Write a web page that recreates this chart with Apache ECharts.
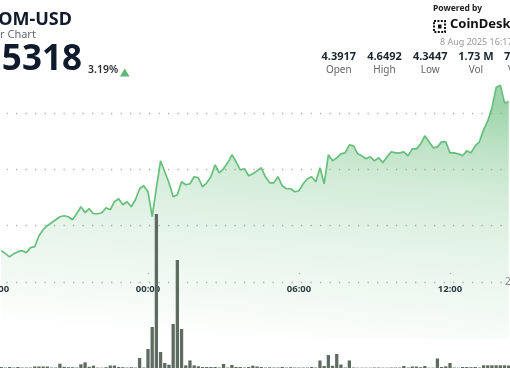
<!DOCTYPE html>
<html><head><meta charset="utf-8">
<script src="https://cdn.jsdelivr.net/npm/echarts@6/dist/echarts.min.js"></script>
<style>html,body{margin:0;padding:0;background:#fff}#c{width:510px;height:369px}</style>
</head><body><div id="c"></div>
<script>
// ---- data (ATOM-USD, 10-minute points, first point 18:10 on 7 Aug) ----
const firstPointTime = '18:10';
const stepMinutes = 10;
const price = [
 4.3558,4.3504,4.3447,4.3504,4.3540,4.3558,4.3522,4.3611,4.3628,4.3823,
 4.3929,4.4000,4.4053,4.4106,4.4159,4.4177,4.4159,4.4106,4.4212,4.4336,
 4.4230,4.4301,4.4212,4.4212,4.4230,4.4319,4.4283,4.4425,4.4478,4.4372,
 4.4425,4.4336,4.4460,4.4655,4.4708,4.4602,4.4159,4.4673,4.5150,4.4956,
 4.4761,4.4513,4.4549,4.4779,4.4726,4.4743,4.4867,4.4850,4.4690,4.4761,
 4.4867,4.5080,4.4938,4.5009,4.5115,4.5257,4.5133,4.4991,4.5009,4.4885,
 4.4920,4.4973,4.5027,4.4867,4.4761,4.4761,4.4867,4.4708,4.4655,4.4655,
 4.4602,4.4619,4.4743,4.4832,4.4867,4.4779,4.5027,4.4743,4.5257,4.5150,
 4.5204,4.5274,4.5292,4.5434,4.5416,4.5274,4.5239,4.5186,4.5221,4.5150,
 4.5204,4.5115,4.5221,4.5310,4.5292,4.5292,4.5310,4.5239,4.5363,4.5363,
 4.5451,4.5593,4.5487,4.5381,4.5398,4.5487,4.5487,4.5292,4.5292,4.5274,
 4.5239,4.5327,4.5292,4.5416,4.5487,4.5699,4.5858,4.6088,4.6450,4.6492,
 4.6177,4.6195
];
const volumeK = [
 2.5,1.2,2.5,1.2,2.5,1.2,1.2,1.2,3.8,3.8,
 3.8,3.8,1.2,1.2,10.8,3,2,2,1.2,9.2,
 14.2,3,5.8,1,0.8,2,6.2,6.2,2.5,2,
 1.2,2,1.2,25,1.2,47.5,102.5,385,40,12.5,
 8.2,110,270,97.5,6.5,19,6.5,4.2,2.5,2.5,
 2.5,2.5,1.2,10,1.2,7.5,2.5,2.5,1.2,2.5,
 5.8,3.8,2.5,1.2,1.8,1.2,1.2,2.5,1.2,2,
 1.2,1.2,1.2,1.2,2.5,1.2,18.8,5,32.5,5.5,
 35,8.8,1.2,18.8,1.2,0.8,0.8,0.8,0.8,1.2,
 1.2,0.8,0.8,1.2,1.2,1.2,5,1.2,3.8,3.8,
 2,5,0.8,0.8,23.8,2.5,4.2,12.5,1.2,0.8,
 2.5,2.5,2,2.5,1.2,6.8,6.8,6.8,6.8,6.8,
 6.8,6.2
];
const gridLevels = [4.3, 4.4, 4.5, 4.6];
const axisStart = '18:00', axisEnd = '18:00', axisStepMinutes = 360;
const header = {
  symbol: 'ATOM-USD', subtitle: '24 Hour Chart', last: '4.5318', change: '3.19%',
  powered: 'Powered by', brand: 'CoinDesk', stamp: '8 Aug 2025 16:17 UTC'
};
const statValues = ['4.3917', '4.6492', '4.3447', '1.73 M', '7.79 M'];
const statLabels = ['Open', 'High', 'Low', 'Vol', 'VWAP'];

// ---- build ----
function toMin(hhmm, dayOffset) { const p = hhmm.split(':').map(Number); return p[0]*60 + p[1] + dayOffset*1440; }
const t0 = toMin(firstPointTime, -1);
const priceData = price.map((p, i) => [t0 + i*stepMinutes, p]);
const volData = volumeK.map((v, i) => [t0 + i*stepMinutes, v]);
const xMin = toMin(axisStart, -1), xMax = toMin(axisEnd, 0);
const fmt = v => { const m = ((v % 1440) + 1440) % 1440; return String(Math.floor(m/60)).padStart(2,'0') + ':' + String(m%60).padStart(2,'0'); };
const FF = '"Noto Sans", sans-serif';

const txt = (text, x, y, font, fill, align) => ({ type: 'text', x, y, z: 20,
  style: { text, font, fill, align: align || 'left', verticalAlign: 'top', textAlign: align || 'left', textVerticalAlign: 'top' } });

const graphic = [
  txt(header.symbol, -23, 11, 'bold 18px ' + FF, '#0f1a2c'),
  txt(header.subtitle, -37, 29, '11px ' + FF, '#666a70'),
  txt(header.last, -28, 43, 'bold 35px ' + FF, '#0f1a2c'),
  txt(header.change, 88, 65, '600 10.5px ' + FF, '#2a2f36'),
  { type: 'polygon', z: 20, shape: { points: [[120, 76.5], [129.5, 76.5], [124.75, 68.5]] }, style: { fill: '#5cb874' } },
  txt(header.powered, 433, 4, 'bold 8.5px ' + FF, '#222'),
  { type: 'rect', z: 20, shape: { x: 434, y: 21, width: 11, height: 11 }, style: { fill: 'none', stroke: '#111', lineWidth: 2, lineDash: [2, 1.4] } },
  { type: 'rect', z: 20, shape: { x: 438, y: 24.5, width: 3.5, height: 4 }, style: { fill: '#111' } },
  txt(header.brand, 450, 18, 'bold 13px ' + FF, '#111'),
  txt(header.stamp, 440, 38, '9px ' + FF, '#999'),
  txt('2', 505, 277, '10px ' + FF, '#888')
];
const centers = [338.8, 384.5, 430.2, 475.9, 521.6];
statValues.forEach((v, i) => graphic.push(txt(v, centers[i], 51, 'bold 11px ' + FF, '#1d2430', 'center')));
statLabels.forEach((v, i) => graphic.push(txt(v, centers[i], 65, '10px ' + FF, '#666', 'center')));

const chart = echarts.init(document.getElementById('c'), null, { renderer: 'canvas' });
chart.setOption({
  animation: false,
  backgroundColor: '#fff',
  grid: [
    { left: -3, right: -91, top: 56.5, bottom: 30.5, outerBoundsMode: 'none', containLabel: false },
    { left: -3, right: -91, top: 168, bottom: 1, outerBoundsMode: 'none', containLabel: false },
    { left: -3, right: 8, top: 113, bottom: 87, outerBoundsMode: 'none', containLabel: false }
  ],
  xAxis: [
    { gridIndex: 0, type: 'value', min: xMin, max: xMax, interval: axisStepMinutes, offset: -56.5,
      axisLine: { show: false },
      axisTick: { show: true, inside: true, length: 9, lineStyle: { color: '#8a8a8a', width: 1.3, type: [1.3, 8], dashOffset: 1 } },
      axisLabel: { formatter: fmt, color: '#262e3a', fontWeight: 'bold', fontSize: 9.5, fontFamily: FF, margin: 2 },
      splitLine: { show: false } },
    { gridIndex: 1, type: 'value', min: xMin, max: xMax, show: false },
    { gridIndex: 2, type: 'value', min: 0, max: 1, show: false }
  ],
  yAxis: [
    { gridIndex: 0, type: 'value', min: 4.2, max: 4.7, show: false },
    { gridIndex: 1, type: 'value', min: 0, max: 500, show: false },
    { gridIndex: 2, type: 'value', min: gridLevels[0], max: gridLevels[gridLevels.length-1], interval: 0.1,
      axisLine: { show: false }, axisTick: { show: false }, axisLabel: { show: false },
      splitLine: { show: true, lineStyle: { color: '#b0b0b0', width: 1.3, type: [1.3, 8.2] } } }
  ],
  series: [
    { type: 'line', xAxisIndex: 0, yAxisIndex: 0, data: priceData, showSymbol: false, z: 2,
      lineStyle: { color: '#67bf7c', width: 1.7 },
      areaStyle: { origin: 'start', color: new echarts.graphic.LinearGradient(0.52, 0, 0.48, 1, [
        { offset: 0, color: 'rgba(95,185,115,0.87)' },
        { offset: 0.18, color: 'rgba(95,185,115,0.59)' },
        { offset: 0.36, color: 'rgba(95,185,115,0.38)' },
        { offset: 0.57, color: 'rgba(95,185,115,0.24)' },
        { offset: 0.85, color: 'rgba(95,185,115,0.10)' },
        { offset: 1, color: 'rgba(95,185,115,0.01)' }
      ]) } },
    { type: 'bar', xAxisIndex: 1, yAxisIndex: 1, data: volData, barWidth: 3.3, z: 3,
      itemStyle: { color: '#5e6b60' } }
  ],
  graphic
});
</script></body></html>
